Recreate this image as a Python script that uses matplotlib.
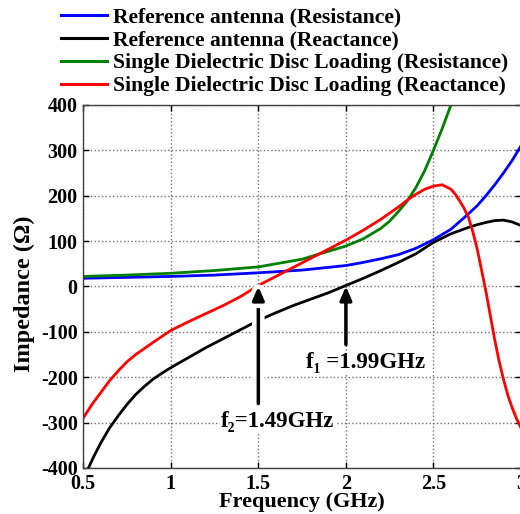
import matplotlib
matplotlib.use("Agg")
import matplotlib.pyplot as plt
import matplotlib.patheffects as pe

# ---- data ----
f_ref_res = [0.5, 0.75, 1.0, 1.25, 1.5, 1.75, 2.0, 2.1, 2.2, 2.3, 2.4, 2.5, 2.6, 2.7, 2.75, 2.8,
             2.85, 2.9, 2.95, 3.0]
z_ref_res = [18, 20, 22, 25, 30, 36, 46, 53, 61, 70, 84, 103, 126, 160, 178, 200,
             224, 250, 278, 310]

f_ref_rea = [0.53, 0.56, 0.6, 0.65, 0.7, 0.75, 0.8, 0.85, 0.9, 0.95, 1.0, 1.1, 1.2, 1.3, 1.4,
             1.5, 1.6, 1.7, 1.8, 1.9, 2.0, 2.1, 2.2, 2.3, 2.4, 2.5, 2.6, 2.7, 2.75, 2.8, 2.85,
             2.9, 2.95, 3.0]
z_ref_rea = [-400, -375, -345, -312, -285, -260, -238, -220, -204, -191, -179, -157, -135, -115, -95,
             -75, -58, -42, -28, -14, 2, 18, 35, 53, 72, 97, 116, 130, 136, 141, 145,
             146, 142, 134]

f_sd_res = [0.5, 0.75, 1.0, 1.25, 1.5, 1.75, 2.0, 2.1, 2.2, 2.25, 2.3, 2.35, 2.4, 2.45, 2.5,
            2.55, 2.6, 2.63]
z_sd_res = [22, 25, 29, 35, 43, 60, 89, 105, 128, 144, 165, 188, 218, 255, 300,
            348, 400, 430]

f_sd_rea = [0.5, 0.55, 0.6, 0.65, 0.7, 0.75, 0.8, 0.9, 1.0, 1.1, 1.2, 1.3, 1.4, 1.5, 1.6, 1.7,
            1.8, 1.9, 2.0, 2.1, 2.2, 2.3, 2.35, 2.4, 2.45, 2.5, 2.55, 2.6, 2.625, 2.65, 2.675,
            2.7, 2.725, 2.75, 2.775, 2.8, 2.825, 2.85, 2.875, 2.9, 2.925, 2.95, 2.975, 3.0]
z_sd_rea = [-290, -260, -234, -208, -186, -166, -150, -123, -97, -78, -60, -42, -22, 2, 22, 42,
            62, 82, 102, 124, 148, 175, 190, 203, 214, 221, 224, 214, 203, 188, 172,
            152, 120, 82, 35, -12, -65, -118, -165, -205, -240, -268, -292, -312]

series_labels = ["Reference antenna (Resistance)",
                 "Reference antenna (Reactance)",
                 "Single Dielectric Disc Loading (Resistance)",
                 "Single Dielectric Disc Loading (Reactance)"]
series_colors = ["#0000ff", "#000000", "#008000", "#ff0000"]

x_ticks = [0.5, 1, 1.5, 2, 2.5, 3]
x_tick_labels = ["0.5", "1", "1.5", "2", "2.5", "3"]
y_ticks = [-400, -300, -200, -100, 0, 100, 200, 300, 400]

ann_f2 = (1.5, "f\u2082=1.49GHz")
ann_f1 = (2.0, "f\u2081 =1.99GHz")

# ---- figure ----
plt.rcParams['font.family'] = ['Liberation Serif', 'DejaVu Serif']
plt.rcParams['font.weight'] = 'bold'
plt.rcParams['axes.unicode_minus'] = False

fig = plt.figure(figsize=(5.2, 5.14), dpi=100)
ax = fig.add_axes([0.16, 0.0895, 0.842, 0.7065])

data = [(f_ref_res, z_ref_res), (f_ref_rea, z_ref_rea), (f_sd_res, z_sd_res), (f_sd_rea, z_sd_rea)]
lines = []
for (fx, zy), lab, col in zip(data, series_labels, series_colors):
    ln, = ax.plot(fx, zy, color=col, lw=2.0, label=lab)
    lines.append(ln)

ax.set_xlim(0.5, 3.0)
ax.set_ylim(-400, 400)
ax.set_xticks(x_ticks)
ax.set_xticklabels(x_tick_labels)
ax.set_yticks(y_ticks)
ax.tick_params(direction='in', length=4, width=1, top=True, right=True,
               labelsize=14.5, pad=4)
for lbl in ax.get_xticklabels() + ax.get_yticklabels():
    lbl.set_fontweight('bold')
ax.grid(True, color='#707070', linestyle=':', linewidth=1.0)
for s in ax.spines.values():
    s.set_linewidth(1.0)
    s.set_color('#404040')

ax.set_xlabel("Frequency (GHz)", fontsize=16, fontweight='bold')
ax.xaxis.set_label_coords(0.5, -0.108, transform=ax.transAxes)
ax.xaxis.label.set_va('baseline')
ax.set_ylabel("Impedance (\u03a9)", fontsize=17.5, fontweight='bold')
ax.yaxis.set_label_coords(-0.135, 0.48)
ax.yaxis.label.set_va('center')

# annotations
arrowprops = dict(arrowstyle='-|>,head_length=0.8,head_width=0.35', color='black', lw=2.5,
                  shrinkA=0, shrinkB=0)
a2 = ax.annotate("", xy=(ann_f2[0], 0), xytext=(ann_f2[0], -258), arrowprops=arrowprops)
a2.arrow_patch.set_path_effects([pe.Stroke(linewidth=9, foreground='white'), pe.Normal()])
a1 = ax.annotate("", xy=(ann_f1[0], 0), xytext=(ann_f1[0], -128), arrowprops=arrowprops)
ax.text(1.61, -298, ann_f2[1], fontsize=16.5, fontweight='bold', ha='center', va='center',
        bbox=dict(facecolor='white', edgecolor='none', pad=1))
ax.text(2.11, -168, ann_f1[1], fontsize=16.5, fontweight='bold', ha='center', va='center',
        bbox=dict(facecolor='white', edgecolor='none', pad=1))

leg = fig.legend(handles=lines, loc='upper left', bbox_to_anchor=(0.118, 0.985),
                 frameon=False, prop={'size': 15.6, 'weight': 'bold'},
                 handlelength=2.1, handletextpad=0.3,
                 labelspacing=0.12, borderaxespad=0, borderpad=0)
for h in leg.legend_handles:
    h.set_linewidth(2.2)

fig.savefig("out.png", dpi=100)
